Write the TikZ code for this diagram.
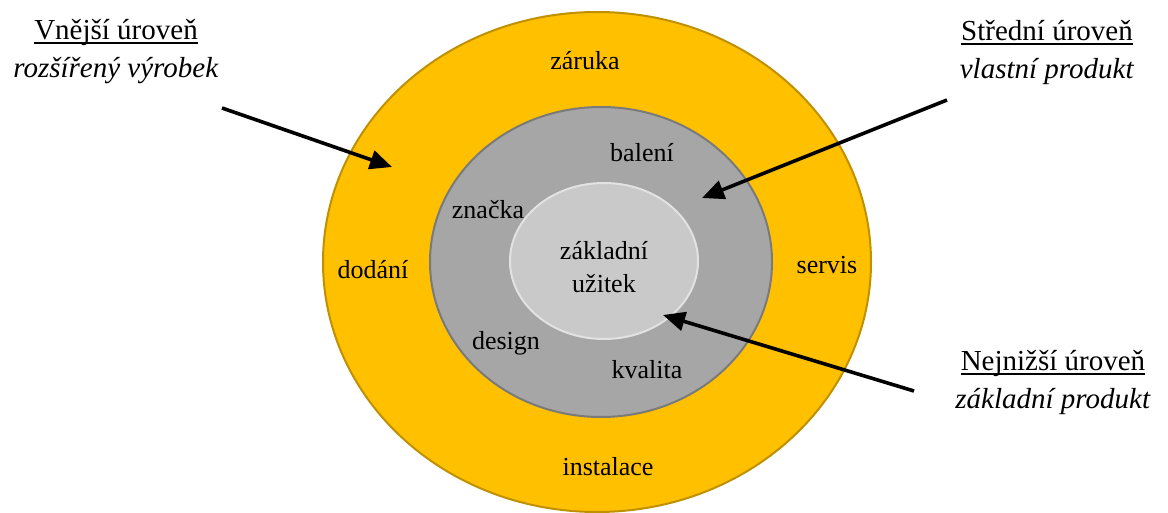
\documentclass[tikz,border=0pt]{standalone}
\usepackage{fontspec}
\setmainfont{Liberation Serif}
\usetikzlibrary{shapes.geometric,arrows.meta}
\definecolor{gold}{HTML}{FFC000}
\definecolor{goldline}{HTML}{BF9000}
\definecolor{midgray}{HTML}{A6A6A6}
\definecolor{midline}{HTML}{7A7A7A}
\definecolor{lightgray}{HTML}{C9C9C9}
\definecolor{lightline}{HTML}{E2E2E2}
\newcommand\myul[1]{\leavevmode\setbox0\hbox{#1}\dp0=0pt \vtop{\box0\kern2.5pt\hrule height 2pt}}
\tikzset{
  ring/.style={ellipse, inner sep=0pt, line width=2pt},
  lbl/.style={anchor=base, inner sep=0pt, font=\fontsize{26}{33}\selectfont},
  corner/.style={align=center, inner sep=0pt, font=\fontsize{29}{38}\selectfont},
  pointer/.style={line width=3.6pt, -{Triangle[length=22pt,width=19pt]}}
}
\begin{document}
\begin{tikzpicture}[x=1pt,y=-1pt]
\useasboundingbox (0,0) rectangle (1168,513);
\node[ring, draw=goldline, fill=gold, minimum width=548pt, minimum height=500pt] (outer) at (597,262) {};
\node[ring, draw=midline, fill=midgray, minimum width=342pt, minimum height=310pt] (middle) at (601,262) {};
\node[ring, draw=lightline, fill=lightgray, minimum width=188pt, minimum height=156pt] (inner) at (604,261) {};

\node[lbl] (zaruka) at (585,70) {záruka};
\node[lbl] (baleni) at (642,162) {balení};
\node[lbl] (znacka) at (488,219) {značka};
\node[lbl] (dodani) at (373,279) {dodání};
\node[lbl] (servis) at (827,274) {servis};
\node[lbl] (design) at (506,349) {design};
\node[lbl] (kvalita) at (647,378) {kvalita};
\node[lbl] (instalace) at (608,475) {instalace};
\node[align=center, inner sep=0pt, font=\fontsize{26}{33}\selectfont] (uzitek) at (604,267) {základní\\užitek};

\node[corner] (outerlbl) at (116,52) {\myul{Vnější úroveň}\\\textit{rozšířený výrobek}};
\node[corner] (midlbl) at (1047,52) {\myul{Střední úroveň}\\\textit{vlastní produkt}};
\node[corner] (innerlbl) at (1053,382) {\myul{Nejnižší úroveň}\\\textit{základní produkt}};

\coordinate (s1) at (222,108);
\coordinate (t1) at (392,167);
\coordinate (s2) at (947,100);
\coordinate (t2) at (702,198);
\coordinate (s3) at (914,391);
\coordinate (t3) at (663,315);
\draw[pointer] (s1) -- (t1);
\draw[pointer] (s2) -- (t2);
\draw[pointer] (s3) -- (t3);
\end{tikzpicture}
\end{document}
